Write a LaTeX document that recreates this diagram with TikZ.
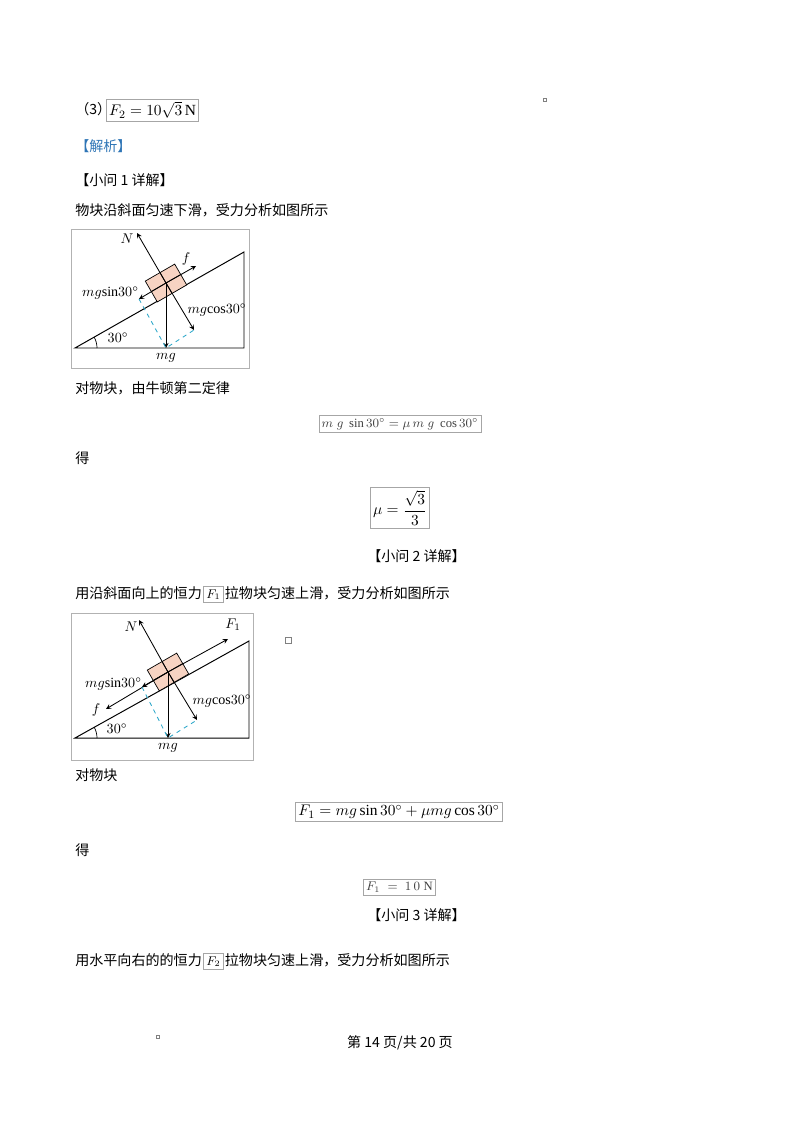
\documentclass[tikz,border=0pt]{standalone}
\usepackage{fontspec}
\setmainfont{Liberation Serif}
\newfontfamily\cjk{Noto Sans CJK SC}
\usetikzlibrary{calc}
\definecolor{jxblue}{HTML}{2E75B6}
\definecolor{blockfill}{HTML}{F7D3C2}
\definecolor{dashcyan}{HTML}{2AA7C9}
\tikzset{
    txt/.style={anchor=base west, inner sep=0pt, font=\cjk\fontsize{10}{12}\selectfont},
    fbox/.style={draw=gray!70, line width=0.5pt, inner sep=2pt, font=\fontsize{11}{13}\selectfont},
    ibox/.style={draw=gray!70, line width=0.5pt, inner sep=2pt, anchor=base west, font=\fontsize{9}{10}\selectfont},
    force/.style={line width=0.6pt, -stealth},
    proj/.style={dashcyan, dashed, line width=0.6pt},
    lbl/.style={inner sep=0pt, font=\fontsize{10}{11}\selectfont},
    frame/.style={draw=gray!60, line width=0.6pt}
}
% block of 34 x 24 px sitting on the 30 degree slope
\newcommand{\slopeblock}[1]{%
    \draw[fill=blockfill, line width=0.5pt] ($(#1)+(8.7,-18.9)$) -- ($(#1)+(20.7,1.9)$)
        -- ($(#1)+(-8.7,18.9)$) -- ($(#1)+(-20.7,-1.9)$) -- cycle;
    \draw[line width=0.5pt] ($(#1)+(14.7,-8.5)$) -- ($(#1)+(-14.7,8.5)$)
        ($(#1)+(-6,-10.4)$) -- ($(#1)+(6,10.4)$);
}
\begin{document}
\begin{tikzpicture}[x=0.025cm, y=-0.025cm]
    \useasboundingbox[fill=white] (0,0) rectangle (800,1132);

    % Answer (3):
    \node[txt] (q3) at (75,114) {（3）};
    \node[fbox, anchor=west] (ans3) at (106,110) {$F_2=10\sqrt{3}\,\mathrm{N}$};
    \node[draw=gray, inner sep=1pt] (mk1) at (545,100) {};

    % Headings:
    \node[txt, text=jxblue] (jx) at (75,151) {【解析】};
    \node[txt] (h1) at (75,185) {【小问 1 详解】};
    \node[txt] (t1) at (75,215) {物块沿斜面匀速下滑，受力分析如图所示};

    % Figure 1:
    \draw[frame] (71,229) rectangle (249,368);
    \coordinate (A1) at (75,348);
    \coordinate (B1) at (244,348);
    \coordinate (C1) at (244,252);
    \draw[line width=0.7pt] (A1) -- (B1) -- (C1) -- cycle;
    \draw[line width=0.5pt] ($(A1)+(22,0)$) arc[start angle=0, end angle=-30, radius=22];
    \coordinate (c1) at (166,283);
    \slopeblock{c1}
    \coordinate (N1) at (137,233);
    \coordinate (f1) at (196,266);
    \coordinate (s1) at (139,299);
    \coordinate (k1) at (194,330);
    \coordinate (g1) at (166,348);
    \draw[force] (c1) -- (N1);
    \draw[force] (c1) -- (f1);
    \draw[force] (c1) -- (s1);
    \draw[force] (c1) -- (k1);
    \draw[force] (c1) -- (g1);
    \draw[proj] (s1) -- (g1) -- (k1);
    \node[lbl] (lN1) at (127,239) {$N$};
    \node[lbl] (lf1) at (186,259) {$f$};
    \node[lbl, anchor=east] (ls1) at (139,293) {$mg\mathrm{sin}30^\circ$};
    \node[lbl] (lk1) at (217,310) {$mg\mathrm{cos}30^\circ$};
    \node[lbl] (la1) at (118,338) {$30^\circ$};
    \node[lbl] (lg1) at (166,358) {$mg$};

    % Newton's law:
    \node[txt] (t2) at (75,393) {对物块，由牛顿第二定律};
    \node[fbox, font=\fontsize{9}{11}\selectfont, text=black!75] (eq1) at (400,424) {$m\;g\;\sin 30^\circ = \mu\, m\;g\;\cos 30^\circ$};
    \node[txt] (de1) at (75,463) {得};
    \node[fbox] (mu) at (400,508) {$\mu=\displaystyle\frac{\sqrt{3}}{3}$};

    \node[txt] (h2) at (367,561) {【小问 2 详解】};
    \node[txt] (t3) at (75,598) {用沿斜面向上的恒力};
    \node[ibox] (F1box) at ($(t3.base east)+(1,0)$) {$F_1$};
    \node[txt] (t3b) at ($(F1box.base east)+(1,0)$) {拉物块匀速上滑，受力分析如图所示};

    % Figure 2:
    \draw[frame] (71,613) rectangle (253,760);
    \node[draw=gray, inner sep=2pt] (mk2) at (288,640) {};
    \coordinate (A2) at (75,738);
    \coordinate (B2) at (249,738);
    \coordinate (C2) at (249,641);
    \draw[line width=0.7pt] (A2) -- (B2) -- (C2) -- cycle;
    \draw[line width=0.5pt] ($(A2)+(22,0)$) arc[start angle=0, end angle=-30, radius=22];
    \coordinate (c2) at (168,672);
    \slopeblock{c2}
    \coordinate (N2) at (139,620);
    \coordinate (F2t) at (228,639);
    \coordinate (f2) at (106,709);
    \coordinate (s2) at (142,687);
    \coordinate (k2) at (197,720);
    \coordinate (g2) at (168,738);
    \draw[force] (c2) -- (N2);
    \draw[force] (c2) -- (F2t);
    \draw[force] (c2) -- (f2);
    \draw[force] (c2) -- (s2);
    \draw[force] (c2) -- (k2);
    \draw[force] (c2) -- (g2);
    \draw[proj] (s2) -- (g2) -- (k2);
    \node[lbl] (lN2) at (131,627) {$N$};
    \node[lbl] (lF2) at (233,625) {$F_1$};
    \node[lbl, anchor=east] (ls2) at (142,684) {$mg\mathrm{sin}30^\circ$};
    \node[lbl] (lf2) at (96,710) {$f$};
    \node[lbl] (lk2) at (222,701) {$mg\mathrm{cos}30^\circ$};
    \node[lbl] (la2) at (117,729) {$30^\circ$};
    \node[lbl] (lg2) at (168,748) {$mg$};

    % Equilibrium along the slope:
    \node[txt] (t4) at (75,780) {对物块};
    \node[fbox] (eq2) at (399,812) {$F_1=mg\sin30^\circ+\mu mg\cos30^\circ$};
    \node[txt] (de2) at (75,855) {得};
    \node[fbox, font=\fontsize{9}{11}\selectfont, text=black!75] (F1val) at (399.5,887) {$F_1\;=\;1\,0\;\mathrm{N}$};

    \node[txt] (h3) at (367,920) {【小问 3 详解】};
    \node[txt] (t5) at (75,965) {用水平向右的的恒力};
    \node[ibox] (F2box) at ($(t5.base east)+(1,0)$) {$F_2$};
    \node[txt] (t5b) at ($(F2box.base east)+(1,0)$) {拉物块匀速上滑，受力分析如图所示};

    % Footer:
    \node[draw=gray, inner sep=1pt] (mk3) at (158,1037) {};
    \node[txt, anchor=base] (foot) at (400,1047) {第 14 页/共 20 页};
\end{tikzpicture}
\end{document}
